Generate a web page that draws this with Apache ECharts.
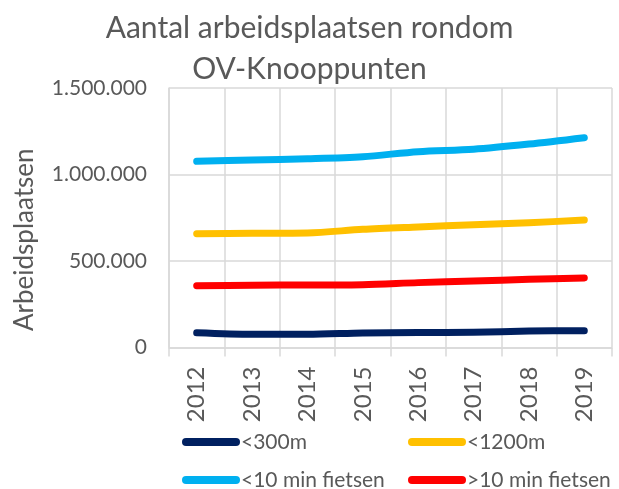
<!DOCTYPE html>
<html>
<head>
<meta charset="utf-8">
<script src="https://cdn.jsdelivr.net/npm/echarts@6/dist/echarts.min.js"></script>
<style>
  html, body { margin: 0; padding: 0; background: #fff; }
  #chart { width: 619px; height: 489px; }
</style>
</head>
<body>
<div id="chart"></div>
<script>
// jaren en aantallen
var years = ['2012', '2013', '2014', '2015', '2016', '2017', '2018', '2019'];
var lt300m = [85000, 76000, 76000, 84000, 86000, 88000, 95000, 97000];
var lt1200m = [658000, 660000, 662000, 683000, 697000, 710000, 721000, 737000];
var lt10fiets = [1076000, 1084000, 1091000, 1103000, 1132000, 1146000, 1176000, 1213000];
var gt10fiets = [357000, 360000, 361000, 363000, 375000, 384000, 394000, 402000];
var yTicks = [0, 500000, 1000000, 1500000];

var grey = '#595959';
var gridColor = '#d9d9d9';
var font = 'Lato';
var capsule = 'path://M4,0 H54 A4,4 0 0 1 54,8 H4 A4,4 0 0 1 4,0 Z';

function dots(val){
	return String(val).replace(/\B(?=(\d{3})+(?!\d))/g, '.');
}

function line(name, data, color){
	return {
		name: name,
		type: 'line',
		data: data,
		smooth: 0.3,
		symbol: 'none',
		itemStyle: { color: color },
		lineStyle: { color: color, width: 7, cap: 'round', join: 'round' }
	};
}

// één legenda per item, zodat elk item vast op zijn plek staat
function legend(left, top, name){
	return {
		left: left,
		top: top,
		padding: 0,
		itemWidth: 58,
		itemHeight: 8,
		icon: capsule,
		data: [name],
		textStyle: { color: grey, fontFamily: font, fontSize: 21, lineHeight: 22, padding: [0, 0, 0, -4] }
	};
}

var chart = echarts.init(document.getElementById('chart'));
var option = {
	animation: false,
	title: {
		text: 'Aantal arbeidsplaatsen rondom\nOV-Knooppunten',
		left: 'center',
		top: 3,
		textStyle: { color: grey, fontFamily: font, fontWeight: 'normal', fontSize: 30, lineHeight: 41 }
	},
	legend: [
		legend(182, 431, '<300m'),
		legend(408, 431, '<1200m'),
		legend(182, 469, '<10 min fietsen'),
		legend(408, 469, '>10 min fietsen')
	],
	grid: { left: 169, right: 7, top: 88, bottom: 141.5 },
	xAxis: {
		type: 'category',
		boundaryGap: true,
		data: years,
		axisLine: { lineStyle: { color: gridColor, width: 1.5 } },
		axisTick: { show: true, length: 9, lineStyle: { color: gridColor, width: 1.5 } },
		splitLine: { show: true, lineStyle: { color: gridColor, width: 1.5 } },
		axisLabel: { rotate: 90, margin: 19, color: grey, fontFamily: font, fontSize: 24 }
	},
	yAxis: {
		type: 'value',
		min: yTicks[0],
		max: yTicks[yTicks.length - 1],
		interval: yTicks[1] - yTicks[0],
		name: 'Arbeidsplaatsen',
		nameLocation: 'middle',
		nameGap: 131,
		nameTextStyle: { color: grey, fontFamily: font, fontSize: 26, padding: [0, 44, 0, 0] },
		axisLine: { show: true, lineStyle: { color: gridColor, width: 1.5 } },
		axisTick: { show: false },
		splitLine: { lineStyle: { color: gridColor, width: 1.5 } },
		axisLabel: { margin: 22, color: grey, fontFamily: font, fontSize: 21, formatter: dots }
	},
	series: [
		line('<300m', lt300m, '#002060'),
		line('<1200m', lt1200m, '#FFC000'),
		line('<10 min fietsen', lt10fiets, '#00B0F0'),
		line('>10 min fietsen', gt10fiets, '#FF0000')
	]
};
chart.setOption(option);
</script>
</body>
</html>
